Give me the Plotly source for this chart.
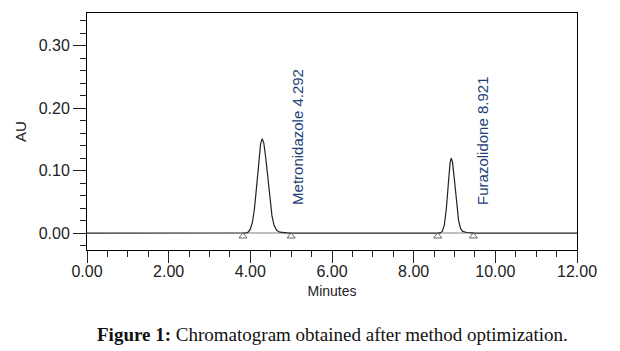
import plotly.graph_objects as go

# Chromatogram trace (minutes, AU)
time_min = [0.00, 3.80, 3.90, 3.95, 4.00, 4.05, 4.10, 4.15, 4.20, 4.25, 4.29, 4.33, 4.38,
            4.43, 4.48, 4.53, 4.58, 4.65, 4.72, 4.80, 4.90, 5.00, 5.20,
            8.60, 8.65, 8.70, 8.75, 8.80, 8.85, 8.89, 8.92, 8.95, 9.00, 9.05, 9.10,
            9.15, 9.20, 9.30, 9.40, 9.50, 12.00]
au = [0.0000, 0.0000, 0.0005, 0.0019, 0.0063, 0.0170, 0.0386, 0.0720, 0.1110, 0.1420, 0.1510, 0.1440, 0.1190,
      0.0845, 0.0520, 0.0275, 0.0125, 0.0040, 0.0015, 0.0007, 0.0003, 0.0001, 0.0000,
      0.0000, 0.0004, 0.0027, 0.0126, 0.0390, 0.0820, 0.1120, 0.1200, 0.1140, 0.0840, 0.0470, 0.0200,
      0.0070, 0.0028, 0.0010, 0.0004, 0.0001, 0.0000]

# Integration marks (start/end of each peak)
mark_times = [3.82, 5.00, 8.59, 9.46]
mark_au = [0.0, 0.0, 0.0, 0.0]

# Peak labels
peak_names = ["Metronidazole 4.292", "Furazolidone 8.921"]
label_x = [5.17, 9.70]
label_y = [0.042, 0.042]

caption_bold = "Figure 1:"
caption_text = " Chromatogram obtained after method optimization."

fig = go.Figure()

# integration baselines (gray)
fig.add_trace(go.Scatter(x=[mark_times[0], mark_times[1]], y=[mark_au[0], mark_au[1]], mode="lines",
                         line=dict(color="#aaaaaa", width=1.5), hoverinfo="skip", showlegend=False))
fig.add_trace(go.Scatter(x=[mark_times[2], mark_times[3]], y=[mark_au[2], mark_au[3]], mode="lines",
                         line=dict(color="#aaaaaa", width=1.5), hoverinfo="skip", showlegend=False))

fig.add_trace(go.Scatter(x=time_min, y=au, mode="lines",
                         line=dict(color="#222222", width=1.2), showlegend=False))

fig.add_trace(go.Scatter(x=mark_times, y=[v - 0.005 for v in mark_au], mode="markers",
                         marker=dict(symbol="triangle-up-open", size=7, color="#666666",
                                     line=dict(width=1)), showlegend=False))

for name, lx, ly in zip(peak_names, label_x, label_y):
    fig.add_annotation(x=lx, y=ly, xref="x", yref="y", text=name, showarrow=False,
                       textangle=-90, xanchor="center", yanchor="bottom",
                       font=dict(family="Liberation Sans, Arial", size=15, color="#1f3f78"))

fig.add_annotation(x=0.5, y=-0.355, xref="paper", yref="paper",
                   text="<b>" + caption_bold + "</b>" + caption_text, showarrow=False,
                   xanchor="center", yanchor="middle",
                   font=dict(family="Liberation Serif, Times New Roman", size=19, color="#111111"))

fig.update_layout(
    width=620, height=351,
    margin=dict(l=87, r=43, t=13, b=101),
    paper_bgcolor="white", plot_bgcolor="white",
    font=dict(family="Liberation Sans, Arial", color="#222222"),
)

fig.update_xaxes(range=[0, 12], dtick=2, tickformat=".2f", ticks="outside", ticklen=12,
                 tickcolor="#222222", showline=True, linecolor="black", linewidth=1, mirror=True,
                 showgrid=False, zeroline=False, tickfont=dict(size=16), ticklabelstandoff=-5,
                 minor=dict(dtick=0.5, ticks="outside", ticklen=6, tickcolor="#222222"),
                 title=dict(text="Minutes", font=dict(size=14), standoff=6))
fig.update_yaxes(range=[-0.027, 0.352], dtick=0.1, tickformat=".2f", ticks="outside", ticklen=13,
                 tickcolor="#222222", showline=True, linecolor="black", linewidth=1, mirror=True,
                 showgrid=False, zeroline=False, tickfont=dict(size=16),
                 minor=dict(dtick=0.02, ticks="outside", ticklen=6, tickcolor="#222222"),
                 title=dict(text="AU", font=dict(size=15), standoff=8))

fig.write_html("out.html")
